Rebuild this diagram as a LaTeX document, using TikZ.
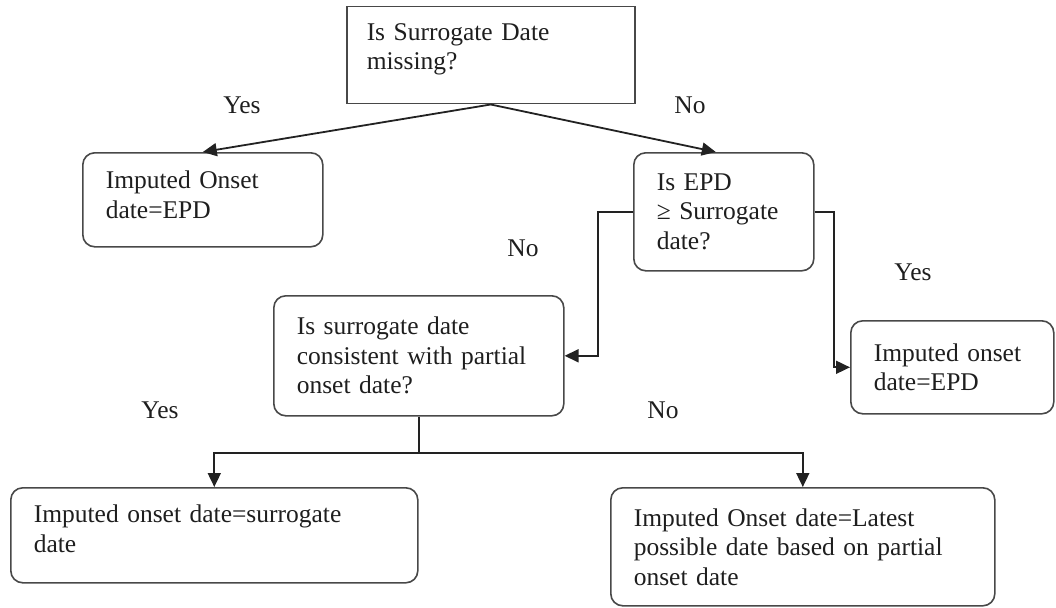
\documentclass[tikz,border=0pt]{standalone}
\usepackage{fontspec}
\setmainfont{Liberation Serif}
\usetikzlibrary{arrows.meta,calc}
\definecolor{boxline}{HTML}{484848}
\definecolor{conn}{HTML}{222222}
\definecolor{txt}{HTML}{1E1E1E}
\tikzset{
  every node/.style={font=\fontsize{25.5}{29.5}\selectfont, text=txt},
  sqbox/.style={draw=boxline, line width=1.5pt, rectangle, anchor=north west, align=left, inner xsep=20pt, inner ysep=0pt},
  rbox/.style={draw=boxline, line width=1.6pt, rectangle, rounded corners=12pt, anchor=north west, align=left, inner xsep=23pt, inner ysep=0pt},
  conn/.style={draw=conn, line width=1.8pt, -{Triangle[length=14pt,width=13pt]}},
  plainconn/.style={draw=conn, line width=1.8pt},
  lbl/.style={inner sep=0pt}
}
\begin{document}
\begin{tikzpicture}[x=1pt,y=-1pt]
\useasboundingbox (0,0) rectangle (1056,607);

\node[sqbox, text width=248pt, minimum height=97pt] (top) at (346,6) {Is Surrogate Date\\missing?\rule[-17pt]{0pt}{0pt}};
\node[rbox, text width=194pt, minimum height=94pt] (left) at (82,152) {Imputed Onset\\date=EPD\rule[-10pt]{0pt}{0pt}};
\node[rbox, text width=134pt, minimum height=118pt] (epd) at (633,152) {Is EPD\\≥ Surrogate\\date?};
\node[rbox, text width=244pt, minimum height=120pt] (partial) at (273,295) {Is surrogate date\\consistent with partial\\onset date?};
\node[rbox, text width=157pt, minimum height=93pt] (repd) at (850,320) {Imputed onset\\date=EPD};
\node[rbox, text width=361pt, minimum height=95pt] (bl) at (10,487) {Imputed onset date=surrogate\\date\rule[-13pt]{0pt}{0pt}};
\node[rbox, text width=338pt, minimum height=118pt] (br) at (610,487) {Imputed Onset date=Latest\\possible date based on partial\\onset date};

% connectors
\draw[conn] (top.south) -- (left.north);
\draw[conn] (top.south) -- ([xshift=-8pt]epd.north);
\draw[conn] (epd.west) -- ++(-35,0) |- (partial.east);
\draw[conn] (epd.east) -- ++(19,0) |- (repd.west);
\draw[plainconn] (partial.south) -- ++(0,36) coordinate (j);
\draw[conn] (j) -| (bl.north);
\draw[conn] (j) -| (br.north);

% labels
\node[lbl] (y1) at (242,105) {Yes};
\node[lbl] (n1) at (690,105) {No};
\node[lbl] (n2) at (523,248) {No};
\node[lbl] (y2) at (913,272) {Yes};
\node[lbl] (y3) at (160,410) {Yes};
\node[lbl] (n3) at (663,410) {No};
\end{tikzpicture}
\end{document}
